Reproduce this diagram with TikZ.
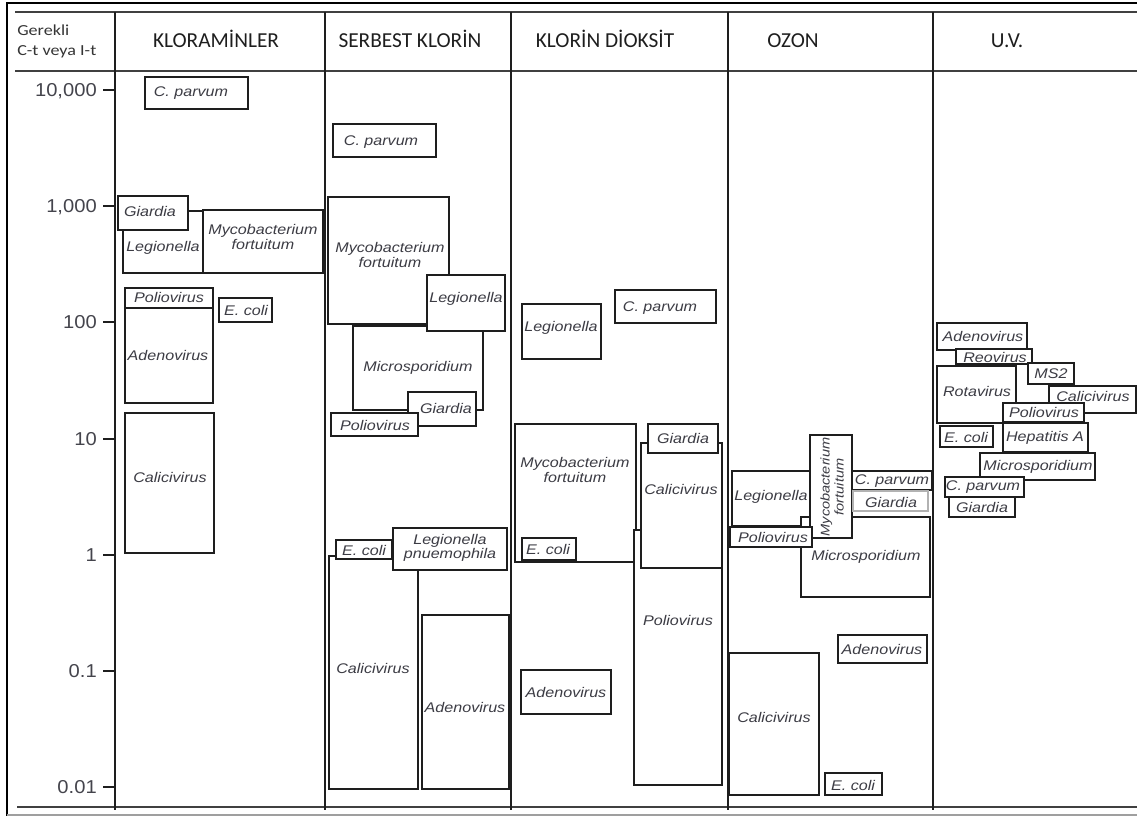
\documentclass[tikz,border=0pt]{standalone}
\usepackage{fontspec}
\usetikzlibrary{fit}

\newfontfamily\hdrfont{Carlito}
\newfontfamily\cornerfont{Carlito}[FakeStretch=1.18]
\newfontfamily\tickfont{Liberation Sans}[FakeStretch=1.08]
\newfontfamily\lblfont{Liberation Sans}[FakeStretch=1.15]

\definecolor{ink}{HTML}{1E1E1E}
\definecolor{lblgrey}{HTML}{3C3C44}
\definecolor{tickgrey}{HTML}{44444C}

\tikzset{
  frame/.style={line width=2.2pt, draw=black},
  rule/.style={line width=1.3pt, draw=ink!85},
  colline/.style={line width=1.4pt, draw=ink},
  box/.style={draw=ink, line width=1.45pt, fill=white, inner sep=0pt, rectangle},
  lbl/.style={inner sep=0pt, text=lblgrey, align=center,
    font=\lblfont\itshape\fontsize{10.5}{11}\selectfont},
  hdr/.style={inner sep=0pt, anchor=base, text=ink,
    font=\hdrfont\fontsize{16}{18}\selectfont},
  corner/.style={inner sep=0pt, anchor=base west, text=ink!90,
    font=\cornerfont\fontsize{11.5}{13}\selectfont},
  ticklbl/.style={inner sep=0pt, anchor=east, text depth=0pt, text=tickgrey,
    font=\tickfont\fontsize{14}{16}\selectfont},
}

% organism box: extra style, name, x1, y1, x2, y2, label position, label
\newcommand\gbox[8]{%
  \node[box,#1,fit={(#3,#4) (#5,#6)}] (#2) {};
  \node[lbl] (#2-t) at #7 {#8};
}

\begin{document}
\begin{tikzpicture}[x=0.75pt,y=-0.75pt]
\useasboundingbox (0,0) rectangle (1137,816);

% outer frame and table rules
\draw[frame] (7,816) -- (7,3) -- (1137,3);
\draw[rule] (15,12) -- (1137,12);
\draw[rule] (15,71) -- (1137,71);
\draw[rule] (17,807) -- (1137,807);
\draw[line width=1.2pt, draw=gray!75] (7,815) -- (1137,815);
\foreach \x in {115,325,511,728,933}
  \draw[colline] (\x,12) -- (\x,810);

% header row
\node[corner] (cornerA) at (17,36) {Gerekli};
\node[corner] (cornerB) at (17,56) {C-t veya I-t};
\node[hdr] (hK) at (216,48) {KLORAMİNLER};
\node[hdr] (hS) at (410,48) {SERBEST KLORİN};
\node[hdr] (hD) at (605,48) {KLORİN DİOKSİT};
\node[hdr] (hO) at (793,48) {OZON};
\node[hdr] (hU) at (1007,48) {U.V.};

% logarithmic axis
\foreach \y in {90,206.2,322.4,438.6,554.8,671,787.2}
  \draw[colline] (103,\y) -- (115,\y);
\node[ticklbl] (t4) at (97,90) {10,000};
\node[ticklbl] (t3) at (97,206.2) {1,000};
\node[ticklbl] (t2) at (97,322.4) {100};
\node[ticklbl] (t1) at (97,438.6) {10};
\node[ticklbl] (t0) at (97,554.8) {1};
\node[ticklbl] (tm1) at (97,671) {0.1};
\node[ticklbl] (tm2) at (97,787.2) {0.01};

% KLORAMINLER
\gbox{}{kLeg}{123}{211}{203}{273}{(163,248)}{Legionella}
\gbox{}{kMyc}{203}{210}{323}{273}{(263,237)}{Mycobacterium\\fortuitum}
\gbox{}{kGia}{118}{196}{188}{230}{(150,212)}{Giardia}
\gbox{}{kPol}{125}{288}{213}{308}{(169,297)}{Poliovirus}
\gbox{}{kAde}{125}{308}{213}{403}{(168,355)}{Adenovirus}
\gbox{}{kEco}{219}{298}{272}{322}{(246,310)}{E. coli}
\gbox{}{kCal}{125}{413}{214}{553}{(170,477)}{Calicivirus}
\gbox{}{kCp}{145}{77}{248}{109}{(191,93)}{C. parvum}

% SERBEST KLORIN
\gbox{}{sCp}{333}{124}{436}{157}{(381,142)}{C. parvum}
\gbox{}{sMyc}{328}{197}{449}{324}{(390,255)}{Mycobacterium\\fortuitum}
\gbox{}{sMic}{353}{326}{483}{410}{(418,368)}{Microsporidium}
\gbox{}{sLeg}{427}{275}{505}{331}{(466,299)}{Legionella}
\gbox{}{sGia}{408}{392}{476}{426}{(446,408)}{Giardia}
\gbox{}{sPol}{331}{413}{418}{436}{(375,425)}{Poliovirus}
\gbox{}{sCal}{329}{556}{418}{789}{(373,668)}{Calicivirus}
\gbox{}{sEco}{336}{540}{392}{559}{(364,550)}{E. coli}
\gbox{}{sLP}{393}{528}{507}{570}{(450,548)}{Legionella\\pnuemophila}
\gbox{}{sAde}{422}{615}{509}{789}{(465,707)}{Adenovirus}

% KLORIN DIOKSIT
\gbox{}{dLeg}{522}{304}{601}{359}{(561,328)}{Legionella}
\gbox{}{dCp}{615}{290}{716}{323}{(660,308)}{C. parvum}
\gbox{}{dMyc}{515}{424}{636}{562}{(575,470)}{Mycobacterium\\fortuitum}
\gbox{}{dEco}{522}{538}{576}{560}{(548,549)}{E. coli}
\gbox{}{dPol}{634}{530}{722}{785}{(678,620)}{Poliovirus}
\gbox{}{dCal}{641}{443}{722}{568}{(681,489)}{Calicivirus}
\gbox{}{dGia}{648}{424}{718}{453}{(683,438)}{Giardia}
\gbox{}{dAde}{521}{670}{611}{714}{(566,692)}{Adenovirus}

% OZON
\gbox{}{oLeg}{732}{471}{810}{526}{(771,497)}{Legionella}
\gbox{}{oMic}{801}{517}{930}{597}{(866,557)}{Microsporidium}
\node[box,fit={(810,435) (852,538)}] (oMyc) {};
\node[lbl,rotate=90,font=\lblfont\itshape\fontsize{9.5}{10.5}\selectfont]
  (oMyc-t) at (832,487) {Mycobacterium\\fortuitum};
\gbox{}{oCp}{852}{471}{932}{490}{(892,481)}{C. parvum}
\gbox{draw=gray!60}{oGia}{853}{491}{928}{511}{(891,502)}{Giardia}
\gbox{}{oPol}{730}{527}{812}{547}{(773,537)}{Poliovirus}
\gbox{}{oAde}{838}{635}{927}{663}{(882,649)}{Adenovirus}
\gbox{}{oCal}{729}{653}{819}{795}{(774,717)}{Calicivirus}
\gbox{}{oEco}{825}{773}{882}{795}{(853,785)}{E. coli}

% U.V.
\gbox{}{uAde}{937}{323}{1027}{350}{(983,336)}{Adenovirus}
\gbox{}{uReo}{956}{349}{1032}{364}{(995,357)}{Reovirus}
\gbox{}{uRot}{937}{366}{1016}{423}{(977,391)}{Rotavirus}
\gbox{}{uMS2}{1028}{363}{1074}{384}{(1051,374)}{MS2}
\gbox{}{uCal}{1049}{386}{1136}{413}{(1093,396)}{Calicivirus}
\gbox{}{uPol}{1003}{403}{1084}{422}{(1044,412)}{Poliovirus}
\gbox{}{uEco}{940}{426}{993}{447}{(966,437)}{E. coli}
\gbox{}{uHep}{1003}{423}{1088}{452}{(1045,438)}{Hepatitis A}
\gbox{}{uMic}{980}{453}{1095}{480}{(1038,467)}{Microsporidium}
\gbox{}{uCp}{945}{477}{1024}{497}{(983,487)}{C. parvum}
\gbox{}{uGia}{949}{497}{1015}{517}{(982,507)}{Giardia}
\end{tikzpicture}
\end{document}
